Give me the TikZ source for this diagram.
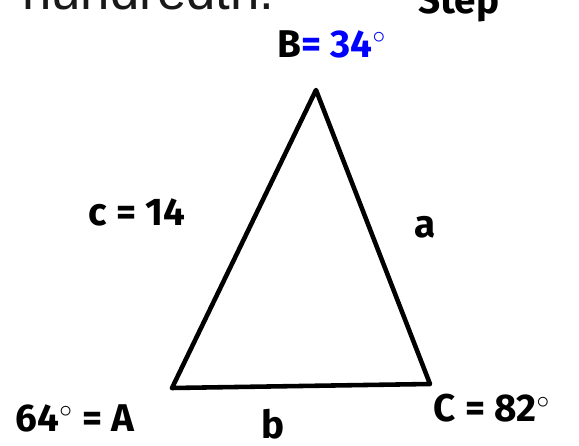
\documentclass[tikz,border=0pt]{standalone}
\usepackage{fontspec}
\setmainfont{Liberation Sans}
\newfontfamily\handfont{Fira Sans}
\usepackage{tikz}
\usetikzlibrary{calc}

\tikzset{
    hand/.style={font=\handfont\bfseries\fontsize{22}{24}\selectfont, inner sep=0pt},
    side/.style={line width=2.6pt, line join=round, line cap=round}
}

\begin{document}
\begin{tikzpicture}[x=0.02cm, y=-0.02cm]

% --- frame and clip (picture is cut off at the top) ---
\useasboundingbox (0,0) rectangle (579,446);
\clip (0,0) rectangle (579,446);

% --- header text, partly outside ---
\node[anchor=base west, inner sep=0pt, font=\fontsize{30}{32}\selectfont, black!90] (head) at (22,10) {hundredth.};
\node[hand, anchor=base west] (step) at (418,14) {Step};

% --- triangle ---
\coordinate (A) at (172,388);
\coordinate (B) at (316,90);
\coordinate (C) at (430,384);
\draw[side] (A) -- (B) -- (C) -- (A);

% --- labels ---
\node[hand] (lblB) at (332,44) {B\textcolor{blue}{= 34$^{\circ}$}};
\node[hand] (lblc) at (137,212) {c = 14};
\node[hand] (lbla) at (425,227) {a};
\node[hand] (lblA) at (75,418) {64$^{\circ}$ = A};
\node[hand] (lblb) at (273,424) {b};
\node[hand] (lblC) at (492,408) {C = 82$^{\circ}$};

\end{tikzpicture}
\end{document}
